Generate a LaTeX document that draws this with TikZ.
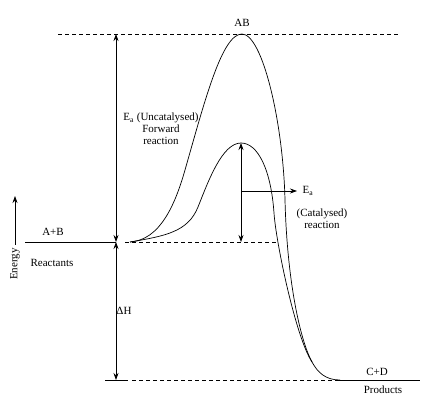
\documentclass[tikz,border=0pt]{standalone}
\usepackage{fontspec}
\setmainfont{Liberation Serif}
\usetikzlibrary{arrows.meta}

\begin{document}
\begin{tikzpicture}[x=1pt, y=-1pt, line width=0.7pt, font=\fontsize{11}{13}\selectfont,
    level/.style={dash pattern=on 4pt off 3pt},
    arr/.style={-{Stealth[length=7pt,width=5pt]}},
    darr/.style={{Stealth[length=7pt,width=5pt]}-{Stealth[length=7pt,width=5pt]}}]
    \useasboundingbox (0,0) rectangle (441,398);

    % Levels
    \coordinate (Top) at (116,34);
    \coordinate (R) at (116,242);
    \coordinate (P) at (116,380);
    \coordinate (Start) at (130,242);
    \coordinate (Peak) at (242,34);
    \coordinate (PeakC) at (241,143);
    \coordinate (BaseC) at (241,242);
    \coordinate (Merge) at (312,362);
    \coordinate (End) at (340,380);
    \coordinate (Mid) at (241,191);
    \coordinate (MidEnd) at (297,191);

    \draw[level] (58,34) -- (398,34);
    \draw (25,242) -- (R);
    \draw[level] (125,242) -- (278,242);
    \draw (105,380) -- (128,380);
    \draw[level] (132,380) -- (335,380);
    \draw (335,380) -- (420,380);

    % Uncatalysed curve
    \draw (Start) .. controls (160,240) and (175,205) .. (185,170)
        .. controls (205,100) and (222,34) .. (Peak)
        .. controls (262,34) and (283,120) .. (285,200)
        .. controls (287,280) and (300,340) .. (Merge)
        .. controls (318,373) and (326,380) .. (End);

    % Catalysed curve
    \draw (Start) .. controls (165,236) and (188,232) .. (198,207)
        .. controls (208,182) and (222,143) .. (PeakC)
        .. controls (258,143) and (271,170) .. (274,213)
        .. controls (276,243) and (296,338) .. (Merge);

    % Activation energies and enthalpy
    \draw[darr] (Top) -- (R);
    \draw[darr] (R) -- (P);
    \draw[darr] (PeakC) -- (BaseC);
    \draw[arr] (Mid) -- (MidEnd);

    % Labels
    \node (AB) at (242,23) {AB};
    \node[align=center] (Eu) at (161,129) {E$_{\mathrm{a}}$ (Uncatalysed)\\[-1pt]Forward\\[-1pt]reaction};
    \node[anchor=west] (Ec) at (299,191) {E$_{\mathrm{a}}$};
    \node[align=center] (Cat) at (322,219) {(Catalysed)\\[-1pt]reaction};
    \node (AplusB) at (53,232) {A+B};
    \node (Reac) at (52,263) {Reactants};
    \node (dH) at (124,311) {ΔH};
    \node (CplusD) at (377,372) {C+D};
    \node (Prod) at (383,390) {Products};

    % Energy axis
    \node[rotate=90] (energy) at (15,264) {Energy};
    \coordinate (EnTip) at (15,196);
    \draw[arr] (energy.east) -- (EnTip);
\end{tikzpicture}
\end{document}
